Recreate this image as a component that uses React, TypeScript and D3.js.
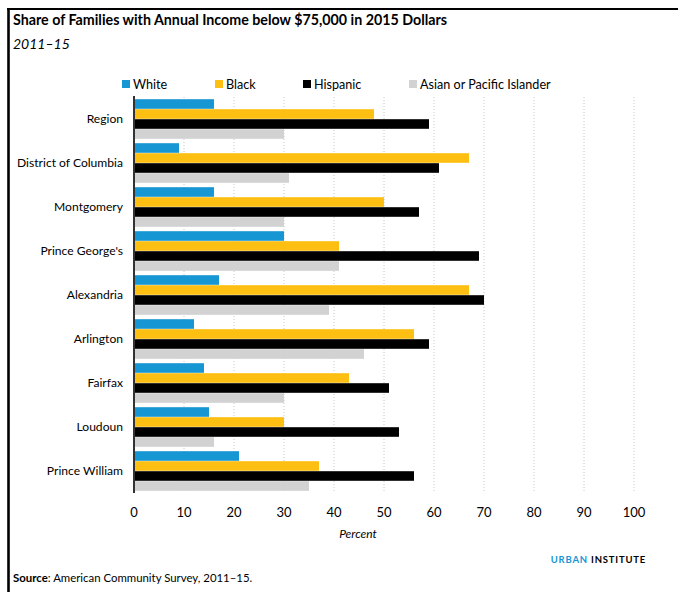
import React from "react";
import * as d3 from "d3";

const categories = ["Region", "District of Columbia", "Montgomery", "Prince George's", "Alexandria", "Arlington", "Fairfax", "Loudoun", "Prince William"];
const seriesNames = ["White", "Black", "Hispanic", "Asian or Pacific Islander"];
const white = [16, 9, 16, 30, 17, 12, 14, 15, 21];
const black = [48, 67, 50, 41, 67, 56, 43, 30, 37];
const hispanic = [59, 61, 57, 69, 70, 59, 51, 53, 56];
const asian = [30, 31, 30, 41, 39, 46, 30, 16, 35];
const xTicks = [0, 10, 20, 30, 40, 50, 60, 70, 80, 90, 100];
const colors = ["#1696d2", "#fdbf11", "#000000", "#d2d2d2"];

const W = 678;
const H = 592;
const FONT = "Lato, 'Open Sans', sans-serif";

export default function App() {
  const seriesValues = [white, black, hispanic, asian];
  const x = d3.scaleLinear().domain([0, 100]).range([134, 634]);
  const y = d3.scaleBand<string>().domain(categories).range([97, 493]).paddingInner(0.1).paddingOuter(0.05);
  const inner = d3.scaleBand<string>().domain(seriesNames).range([0, y.bandwidth()]).paddingInner(0.04);
  const legendX = [122, 215, 303, 409];

  return (
    <svg width={W} height={H} style={{ position: "absolute", left: 0, top: 0, background: "#fff" }} fontFamily={FONT}>
      <rect x={0} y={0} width={W} height={H} fill="#fff" />
      {/* frame */}
      <line x1={7} x2={W} y1={9} y2={9} stroke="#000" strokeWidth={2.2} />
      <line x1={8.5} x2={8.5} y1={8} y2={H} stroke="#000" strokeWidth={2.6} />

      <text x={13} y={25} fontSize={14.25} fontWeight={700} fill="#000">Share of Families with Annual Income below $75,000 in 2015 Dollars</text>
      <text x={13} y={49} fontSize={14} fontStyle="italic" fill="#000">2011–15</text>

      {/* legend */}
      {seriesNames.map((s, i) => (
        <g key={s}>
          <rect x={legendX[i]} y={80} width={8} height={8} fill={colors[i]} />
          <text x={legendX[i] + 11} y={89} fontSize={12.6} fill="#000">{s}</text>
        </g>
      ))}

      {/* gridlines */}
      {xTicks.slice(1).map((t) => (
        <line key={t} x1={x(t)} x2={x(t)} y1={97} y2={493} stroke="#c8c8c8" strokeWidth={1} strokeDasharray="1,2" />
      ))}

      {/* bars */}
      {categories.map((c, ci) => (
        <g key={c} transform={`translate(0,${y(c)})`}>
          {seriesNames.map((s, si) => (
            <rect key={s} x={x(0)} y={inner(s)} width={x(seriesValues[si][ci]) - x(0)} height={inner.bandwidth()} fill={colors[si]} />
          ))}
          <text x={123} y={y.bandwidth() / 2} dy="0.35em" textAnchor="end" fontSize={12.1} fill="#000">{c}</text>
        </g>
      ))}

      {/* axis line */}
      <line x1={x(0)} x2={x(0)} y1={96} y2={493} stroke="#333" strokeWidth={2} />

      {/* x tick labels */}
      {xTicks.map((t) => (
        <text key={t} x={x(t)} y={517} textAnchor="middle" fontSize={13} fill="#000">{t}</text>
      ))}
      <text x={358} y={538} textAnchor="middle" fontSize={12} fontStyle="italic" fill="#000">Percent</text>

      <text x={646} y={563} textAnchor="end" fontSize={9.5} fontWeight={700} letterSpacing={0.8} fill="#000">
        <tspan fill="#1696d2">URBAN</tspan> INSTITUTE
      </text>

      <text x={13} y={582} fontSize={11.4} fill="#000">
        <tspan fontWeight={700}>Source</tspan>: American Community Survey, 2011–15.
      </text>
    </svg>
  );
}
